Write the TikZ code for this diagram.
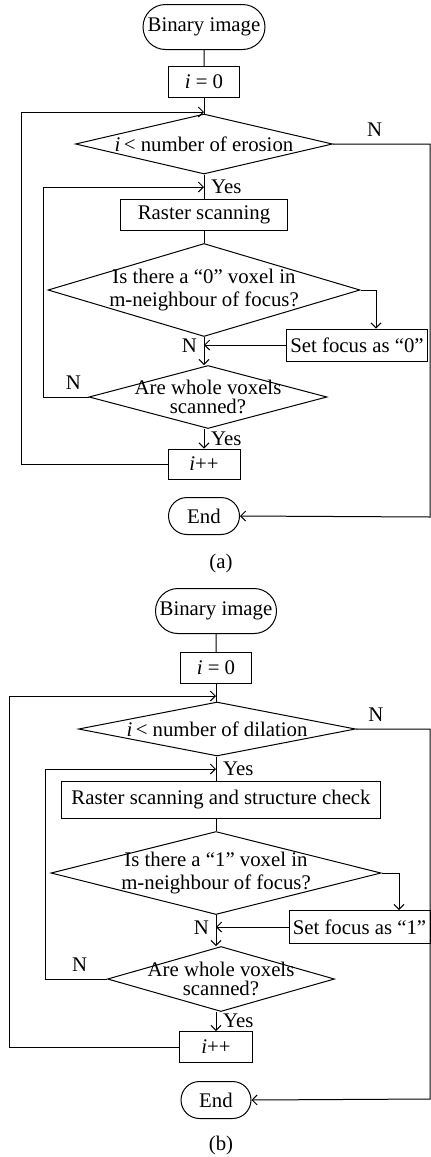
\documentclass[tikz,border=0pt]{standalone}
\usepackage{fontspec}
\setmainfont{Liberation Serif}
\usetikzlibrary{shapes.geometric,shapes.misc,arrows.meta}

\begin{document}
\begin{tikzpicture}[x=0.5pt, y=-0.5pt, line width=0.5pt, font=\fontsize{10.4}{11.5}\selectfont,
    term/.style={draw, rounded rectangle, inner sep=1pt},
    box/.style={draw, rectangle, inner sep=1pt},
    dec/.style={draw, diamond, inner sep=0pt},
    arr/.style={-{Straight Barb[length=2.5pt,width=5pt]}}]
        \useasboundingbox (0,0) rectangle (431,1157);
        \clip (0,0) rectangle (431,1157);
        % Parte (a): erosao
        \node[term, minimum width=63pt, minimum height=22.5pt] (starta) at (204,27) {Binary image};
        \node[box, minimum width=35.5pt, minimum height=15.5pt] (inita) at (204,82) {\textit{i} = 0};
        \node[dec, minimum width=128.5pt, minimum height=30pt,
              label={center:{\textit{i}\,< number of erosion}}] (conda) at (204,144) {};
        \node[box, minimum width=83.5pt, minimum height=15.5pt] (scana) at (204,215) {Raster scanning};
        \node[dec, minimum width=156pt, minimum height=46.5pt,
              label={[align=center]center:{Is there a “0” voxel in\\m-neighbour of focus?}}] (checka) at (204,290) {};
        \node[box, minimum width=70.5pt, minimum height=16pt] (seta) at (357,345) {Set focus as “0”};
        \node[dec, minimum width=119pt, minimum height=31.5pt,
              label={[align=center]center:{Are whole voxels\\[-2pt]scanned?}}] (wholea) at (208,397) {};
        \node[box, minimum width=36pt, minimum height=15pt] (inca) at (204,464) {\textit{i}++};
        \node[term, minimum width=37.5pt, minimum height=18.5pt] (enda) at (204,516) {End};
        \node (capa) at (221,563) {(a)};
        \coordinate (joina) at (204,112);
        \coordinate (joinb) at (204,187);
        \coordinate (rima) at (430,517);
        % Ligacoes (a)
        \draw (starta) -- (inita);
        \draw (inita) -- (conda);
        \draw (conda) -- node[right, pos=0.5] (yesa) {Yes} (scana);
        \draw (scana) -- (checka);
        \draw[arr] (checka.east) -| ([xshift=9.5pt]seta.north);
        \draw[arr] (checka.south) -- node[left, pos=0.3] (na) {N} (checka.south |- wholea.north);
        \draw[arr] (seta.west) -- (checka.south |- seta.west);
        \draw[arr] (wholea.west) -- node[above, pos=0.33] (nb) {N} (43,397) -- (43,187) -- (joinb);
        \draw[arr] (wholea.south -| inca.north) -- node[right, pos=0.48] (yesb) {Yes} (inca.north);
        \draw[arr] (inca.west) -- (21,464) -- (21,112) -- (joina);
        \draw[arr] (conda.east) -- node[above, pos=0.43] (nc) {N} (conda.east -| rima) -- (rima) -- (enda.east);

        % Parte (b): dilatacao
        \node[term, minimum width=62.5pt, minimum height=22.5pt] (startb) at (216,611) {Binary image};
        \node[box, minimum width=35.5pt, minimum height=15.5pt] (initb) at (216,668) {\textit{i} = 0};
        \node[dec, minimum width=138.5pt, minimum height=27pt,
              label={center:{\textit{i}\,< number of dilation}}] (condb) at (217,729) {};
        \node[box, minimum width=159.5pt, minimum height=18.5pt] (scanb) at (221,800) {Raster scanning and structure check};
        \node[dec, minimum width=165pt, minimum height=41.5pt,
              label={[align=center]center:{Is there a “1” voxel in\\m-neighbour of focus?}}] (checkb) at (216,873) {};
        \node[box, minimum width=70.5pt, minimum height=16.5pt] (setb) at (359.5,927) {Set focus as “1”};
        \node[dec, minimum width=113.5pt, minimum height=32.5pt,
              label={[align=center]center:{Are whole voxels\\[-2pt]scanned?}}] (wholeb) at (221,979) {};
        \node[box, minimum width=36.5pt, minimum height=15.5pt] (incb) at (216,1047) {\textit{i}++};
        \node[term, minimum width=37pt, minimum height=18.5pt] (endb) at (216,1100) {End};
        \node (capb) at (221,1145) {(b)};
        \coordinate (joinc) at (216,696);
        \coordinate (joind) at (216,769);
        \coordinate (rimb) at (430,1099);
        % Ligacoes (b)
        \draw (startb) -- (initb);
        \draw (initb) -- (initb |- condb.north);
        \draw (condb.south -| initb) -- node[right, pos=0.5] (yesc) {Yes} (initb |- scanb.north);
        \draw (initb |- scanb.south) -- (checkb);
        \draw[arr] (checkb.east) -| ([xshift=19.75pt]setb.north);
        \draw[arr] (checkb.south) -- node[left, pos=0.4] (nd) {N} (checkb.south |- wholeb.north);
        \draw[arr] (setb.west) -- (checkb.south |- setb.west);
        \draw[arr] (wholeb.west) -- node[above, pos=0.44] (ne) {N} (45,979) -- (45,769) -- (joind);
        \draw[arr] (wholeb.south -| incb.north) -- node[right, pos=0.48] (yesd) {Yes} (incb.north);
        \draw[arr] (incb.west) -- (9,1047) -- (9,696) -- (joinc);
        \draw[arr] (condb.east) -- node[above, pos=0.27] (nf) {N} (condb.east -| rimb) -- (rimb) -- (endb.east);
\end{tikzpicture}
\end{document}
